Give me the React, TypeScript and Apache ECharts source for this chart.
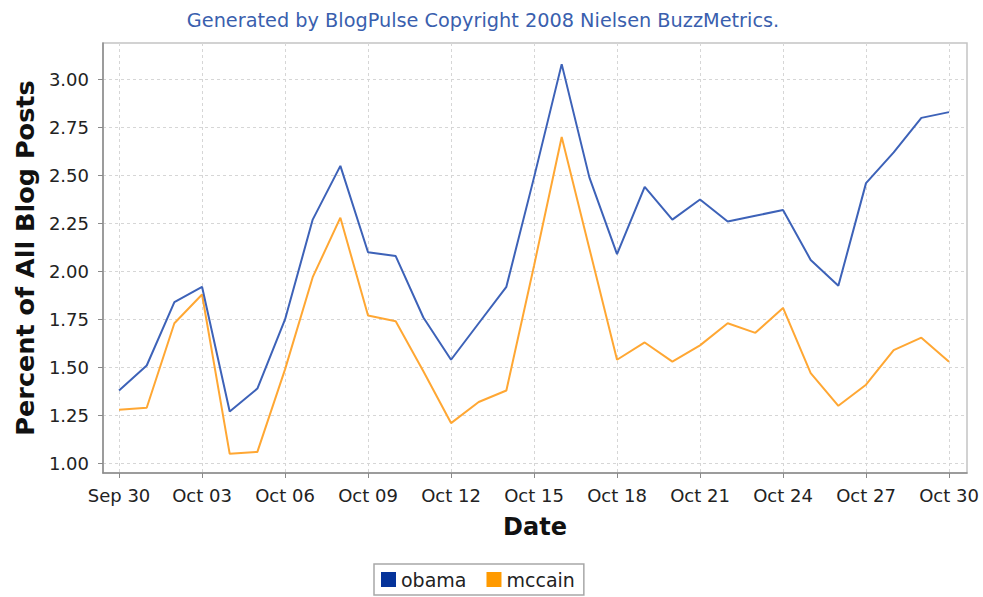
import React, { useEffect, useRef } from 'react';
import * as echarts from 'echarts';

const dates = [
  'Sep 30', 'Oct 01', 'Oct 02', 'Oct 03', 'Oct 04', 'Oct 05', 'Oct 06', 'Oct 07',
  'Oct 08', 'Oct 09', 'Oct 10', 'Oct 11', 'Oct 12', 'Oct 13', 'Oct 14', 'Oct 15',
  'Oct 16', 'Oct 17', 'Oct 18', 'Oct 19', 'Oct 20', 'Oct 21', 'Oct 22', 'Oct 23',
  'Oct 24', 'Oct 25', 'Oct 26', 'Oct 27', 'Oct 28', 'Oct 29', 'Oct 30',
];

const obama = [
  1.38, 1.51, 1.84, 1.92, 1.27, 1.39, 1.75, 2.27, 2.55, 2.10, 2.08,
  1.76, 1.54, 1.73, 1.92, 2.49, 3.08, 2.49, 2.09, 2.44, 2.27, 2.375,
  2.26, 2.29, 2.32, 2.06, 1.925, 2.46, 2.62, 2.80, 2.83,
];

const mccain = [
  1.28, 1.29, 1.73, 1.88, 1.05, 1.06, 1.49, 1.97, 2.28, 1.77, 1.74,
  1.48, 1.21, 1.32, 1.38, 2.03, 2.70, 2.12, 1.54, 1.63, 1.53, 1.615,
  1.73, 1.68, 1.81, 1.47, 1.30, 1.41, 1.59, 1.655, 1.53,
];

const xTickIndices = [0, 3, 6, 9, 12, 15, 18, 21, 24, 27, 30];
const yTicks = [1.0, 1.25, 1.5, 1.75, 2.0, 2.25, 2.5, 2.75, 3.0];

const titleText = 'Generated by BlogPulse Copyright 2008 Nielsen BuzzMetrics.';
const seriesNames = ['obama', 'mccain'];
const lineColors = ['#3d62b8', '#ffa733'];
const legendColors = ['#05339a', '#ff9a00'];

export default function App() {
  const ref = useRef<HTMLDivElement>(null);
  useEffect(() => {
    if (!ref.current) return;
    const chart = echarts.init(ref.current, null, { renderer: 'svg' });
    const font = 'DejaVu Sans, sans-serif';
    const seriesData = [obama, mccain];
    chart.setOption({
      animation: false,
      backgroundColor: '#ffffff',
      graphic: [
        {
          type: 'text',
          x: 483,
          y: 20,
          style: {
            text: titleText,
            fill: '#3a5fae',
            font: `normal 19.3px ${font}`,
            textAlign: 'center',
            textVerticalAlign: 'middle',
          },
        },
      ],
      legend: {
        left: 374,
        top: 564,
        orient: 'horizontal',
        icon: 'rect',
        itemWidth: 15,
        itemHeight: 15,
        itemGap: 20,
        padding: [6, 9, 6, 7],
        borderColor: '#a8a8a8',
        borderWidth: 1.5,
        borderRadius: 0,
        textStyle: { fontSize: 19, fontFamily: font, color: '#222' },
        data: seriesNames.map((n, i) => ({ name: n, itemStyle: { color: legendColors[i] } })),
      },
      grid: {
        left: 103,
        top: 43,
        width: 864,
        height: 430,
        show: true,
        borderColor: '#c4c4c4',
        borderWidth: 1.5,
        backgroundColor: '#ffffff',
      },
      xAxis: {
        type: 'value',
        min: -0.58,
        max: 30.65,
        name: 'Date',
        nameLocation: 'middle',
        nameGap: 42,
        nameTextStyle: { fontSize: 24, fontWeight: 'bold', fontFamily: font, color: '#111' },
        axisLine: { show: true, onZero: false, lineStyle: { color: '#8a8a8a', width: 1.5 } },
        axisTick: { show: true, length: 5, lineStyle: { color: '#8a8a8a' }, customValues: xTickIndices },
        axisLabel: {
          customValues: xTickIndices,
          formatter: (v: number) => dates[Math.round(v)] ?? '',
          fontSize: 18,
          fontFamily: font,
          color: '#222',
          margin: 13,
        },
        splitLine: { show: true, lineStyle: { color: '#d6d6d6', type: [3, 3], width: 1 } },
      },
      yAxis: {
        type: 'value',
        min: 0.95,
        max: 3.19,
        name: 'Percent of All Blog Posts',
        nameLocation: 'middle',
        nameGap: 63,
        nameTextStyle: { fontSize: 25.5, fontWeight: 'bold', fontFamily: font, color: '#111' },
        axisLine: { show: true, onZero: false, lineStyle: { color: '#8a8a8a', width: 1.5 } },
        axisTick: { show: true, length: 5, lineStyle: { color: '#8a8a8a' }, customValues: yTicks },
        axisLabel: {
          customValues: yTicks,
          formatter: (v: number) => v.toFixed(2),
          fontSize: 18,
          fontFamily: font,
          color: '#222',
          margin: 14,
        },
        splitLine: { show: true, lineStyle: { color: '#d6d6d6', type: [3, 3], width: 1 } },
      },
      series: seriesNames.map((n, i) => ({
        name: n,
        type: 'line',
        data: seriesData[i].map((v, j) => [j, v]),
        showSymbol: false,
        symbol: 'none',
        lineStyle: { color: lineColors[i], width: 2 },
        itemStyle: { color: lineColors[i] },
        z: 3 - i,
      })),
    });
    return () => chart.dispose();
  }, []);
  return (
    <div
      ref={ref}
      style={{ position: 'absolute', left: 0, top: 0, width: 983, height: 597 }}
    />
  );
}
